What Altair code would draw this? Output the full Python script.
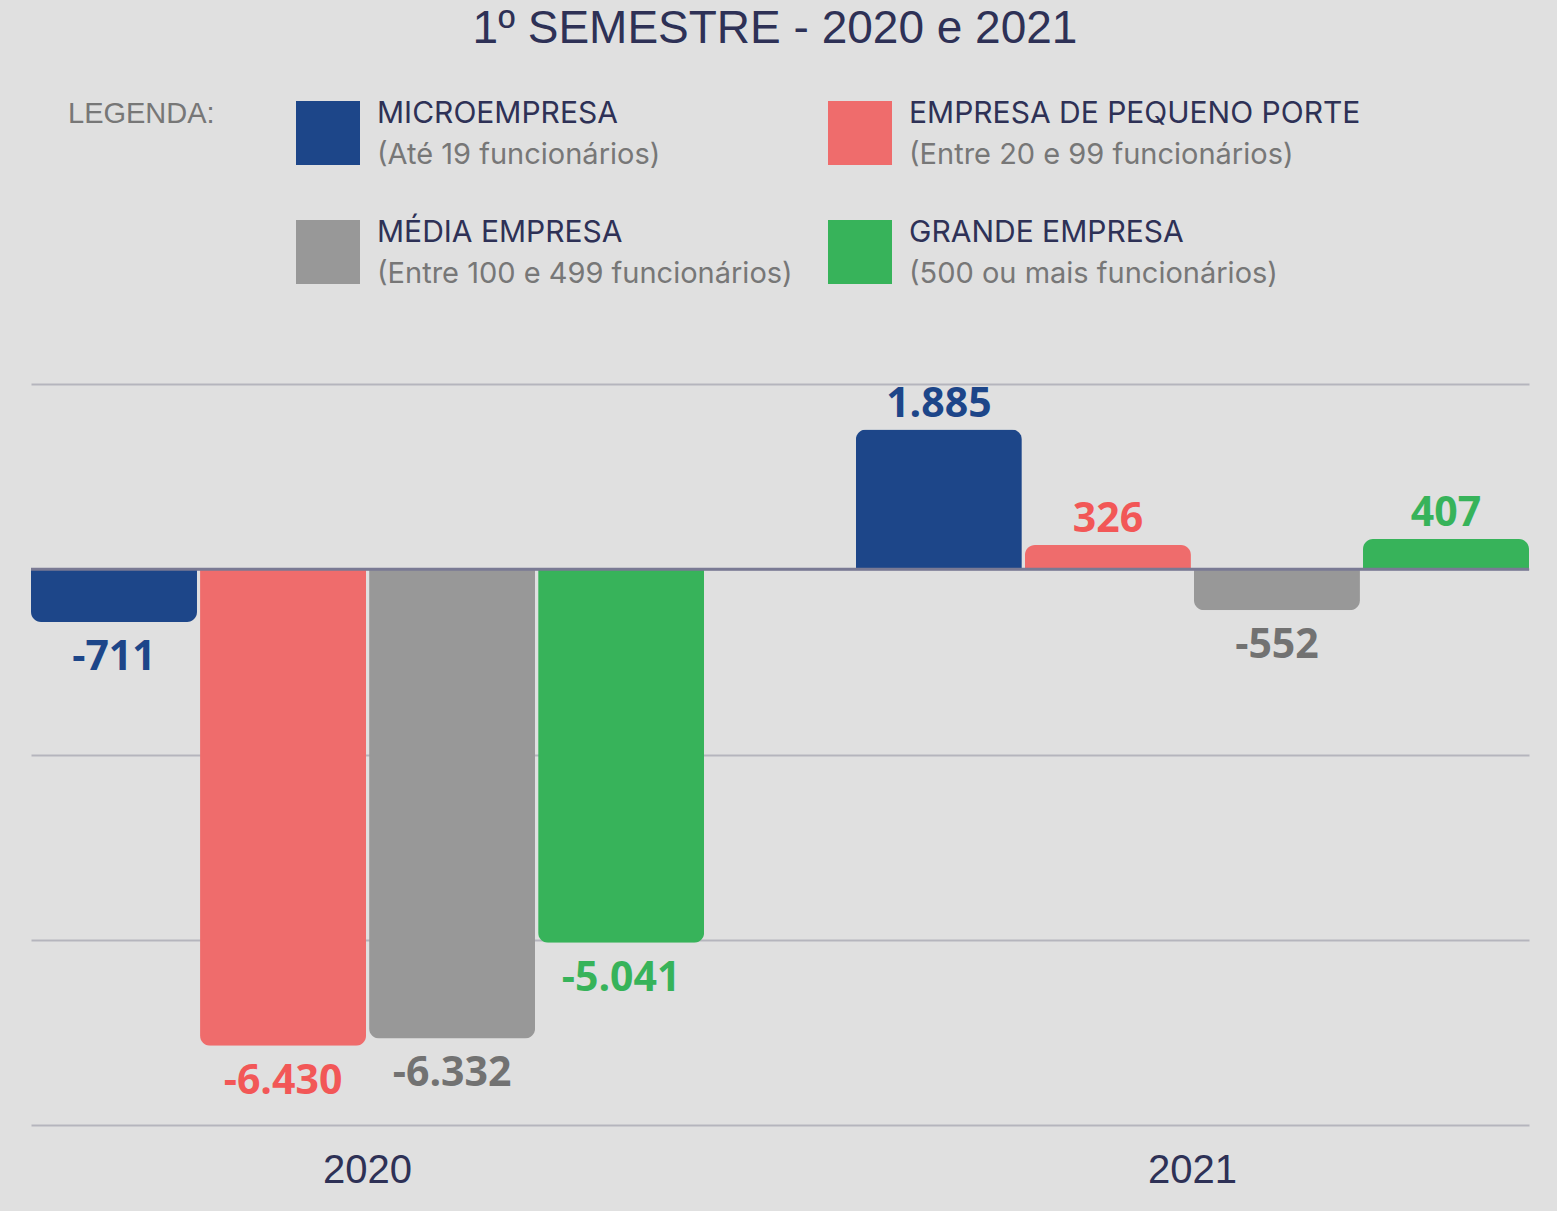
import altair as alt
import pandas as pd

# ---- data ----
years = ["2020", "2021"]
categories = ["MICROEMPRESA", "EMPRESA DE PEQUENO PORTE", "MÉDIA EMPRESA", "GRANDE EMPRESA"]
subtitles = ["(Até 19 funcionários)", "(Entre 20 e 99 funcionários)",
             "(Entre 100 e 499 funcionários)", "(500 ou mais funcionários)"]
values_2020 = [-711, -6430, -6332, -5041]
values_2021 = [1885, 326, -552, 407]
legend_col = [0, 1, 0, 1]
legend_row = [0, 0, 1, 1]
grid_values = [-7500, -5000, -2500, 0, 2500]

bar_colors = ["#1d4689", "#ef6c6c", "#989898", "#37b35a"]
label_colors = ["#1d4689", "#f25757", "#727272", "#37b35a"]

rows = []
for y, vals in zip(years, [values_2020, values_2021]):
    for c, v in zip(categories, vals):
        rows.append({"year": y, "cat": c, "value": v,
                     "label": f"{v:,}".replace(",", ".")})
df = pd.DataFrame(rows)

leg_df = pd.DataFrame({"cat": categories, "sub": subtitles,
                       "col": legend_col, "row": legend_row})
head_df = pd.DataFrame({"txt": ["LEGENDA:"], "col": [-0.5], "row": [0]})
zero_df = pd.DataFrame({"zero": [0]})

# ---- bars ----
xenc = alt.X("year:N", sort=years,
             scale=alt.Scale(domain=years, paddingInner=0.184, paddingOuter=0),
             axis=alt.Axis(title=None, domain=False, ticks=False, labelAngle=0,
                           labelFont="Liberation Sans", labelFontSize=40,
                           labelColor="#2e3156", labelPadding=25, grid=False))
xoff = alt.XOffset("cat:N", sort=categories,
                   scale=alt.Scale(domain=categories, paddingInner=0.018, paddingOuter=0))
yenc = alt.Y("value:Q",
             scale=alt.Scale(domain=[-7500, 2500], nice=False, zero=False),
             axis=alt.Axis(title=None, values=grid_values, labels=False, ticks=False,
                           domain=False, grid=True, gridColor="#b5b5bd", gridWidth=2))

base = alt.Chart(df).encode(x=xenc, xOffset=xoff, y=yenc)
bar_color = alt.Color("cat:N", scale=alt.Scale(domain=categories, range=bar_colors), legend=None)
lab_color = alt.Color("cat:N", scale=alt.Scale(domain=categories, range=label_colors), legend=None)

pos_bar = base.mark_bar(cornerRadiusTopLeft=10, cornerRadiusTopRight=10).encode(
    color=bar_color).transform_filter("datum.value >= 0")
neg_bar = base.mark_bar(cornerRadiusBottomLeft=10, cornerRadiusBottomRight=10).encode(
    color=bar_color).transform_filter("datum.value < 0")
zero_rule = alt.Chart(zero_df).mark_rule(color="#7a7a94", strokeWidth=3).encode(
    y=alt.Y("zero:Q", scale=alt.Scale(domain=[-7500, 2500], nice=False, zero=False)))
pos_txt = base.mark_text(font="Open Sans", fontWeight="bold", fontSize=41,
                         baseline="alphabetic", dy=-13).encode(
    text="label:N", color=lab_color).transform_filter("datum.value >= 0")
neg_txt = base.mark_text(font="Open Sans", fontWeight="bold", fontSize=41,
                         baseline="alphabetic", dy=48).encode(
    text="label:N", color=lab_color).transform_filter("datum.value < 0")

bars = alt.layer(pos_bar, neg_bar, zero_rule, pos_txt, neg_txt).resolve_scale(color="independent")

# ---- legend ----
lx = alt.X("col:Q", scale=alt.Scale(domain=[0, 1], range=[297, 829]), axis=None)
ly = alt.Y("row:Q", scale=alt.Scale(domain=[0, 1], range=[-251, -132]), axis=None)
leg_base = alt.Chart(leg_df).encode(x=lx, y=ly)
leg_sq = leg_base.mark_square(size=4096, opacity=1).encode(
    color=alt.Color("cat:N", scale=alt.Scale(domain=categories, range=bar_colors), legend=None))
leg_title = leg_base.mark_text(align="left", baseline="middle", dx=49, dy=-19,
                               font="Inter", fontSize=30, color="#2e3156").encode(text="cat:N")
leg_sub = leg_base.mark_text(align="left", baseline="middle", dx=49, dy=22,
                             font="Inter", fontSize=29, color="#777777").encode(text="sub:N")
leg_head = alt.Chart(head_df).mark_text(align="left", baseline="middle", dx=6, dy=-19,
                                        font="Liberation Sans", fontSize=29,
                                        color="#777777").encode(x=lx, y=ly, text="txt:N")
legend = alt.layer(leg_sq, leg_title, leg_sub, leg_head)

chart = alt.layer(bars, legend).resolve_scale(
    x="independent", y="independent", color="independent"
).properties(
    width=1498, height=741,
    title=alt.TitleParams("1º SEMESTRE - 2020 e 2021", font="Liberation Sans", fontSize=46,
                          color="#2e3156", fontWeight="normal", anchor="middle", offset=46,
                          dx=-5),
    padding={"left": 31, "top": 384, "right": 28, "bottom": 86},
    autosize=alt.AutoSizeParams(type="none"),
).configure(background="#e0e0e0").configure_view(stroke=None)

chart.save("out.html", embed_options={"renderer": "svg", "actions": False})
